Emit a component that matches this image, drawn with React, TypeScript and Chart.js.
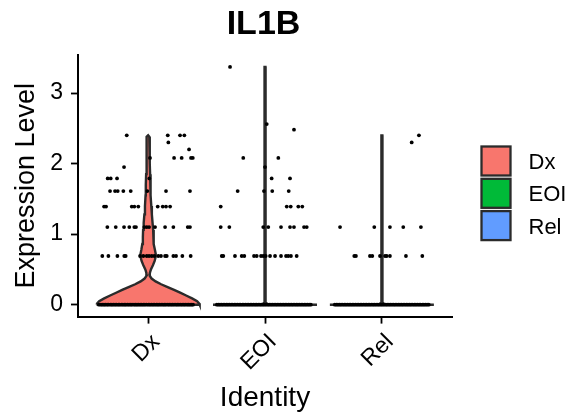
import { useEffect, useRef } from "react";
import { Chart, registerables } from "chart.js";
Chart.register(...registerables);

const plotTitle = "IL1B";
const xTitle = "Identity";
const yTitle = "Expression Level";
const groups = ["Dx", "EOI", "Rel"];
const groupColors = ["#F8766D", "#00BA38", "#619CFF"];
const yTickValues = [0, 1, 2, 3];

// Dx non-zero cells: value and horizontal jitter (category units)
const dxValues = [
  2.4, 2.4, 2.4, 2.4, 2.3, 2.2, 2.08, 2.08, 2.08, 2.08, 2.08, 1.95, 1.79, 1.79, 1.79, 1.79,
  1.61, 1.61, 1.61, 1.61, 1.61, 1.61, 1.61, 1.61,
  1.39, 1.39, 1.39, 1.39, 1.39, 1.39, 1.39, 1.39, 1.39,
  1.1, 1.1, 1.1, 1.1, 1.1, 1.1, 1.1, 1.1, 1.1, 1.1, 1.1, 1.1, 1.1, 1.1,
  0.69, 0.69, 0.69, 0.69, 0.69, 0.69, 0.69, 0.69, 0.69, 0.69, 0.69, 0.69, 0.69, 0.69, 0.69, 0.69, 0.69, 0.69, 0.69,
];
const dxJitter = [
  -0.183, 0.168, 0.273, 0.31, 0.173, 0.35, 0.016, 0.222, 0.287, 0.367, 0.382, -0.206, -0.346, -0.32, -0.266, 0.01,
  -0.326, -0.283, -0.26, -0.212, -0.149, -0.007, 0.153, 0.358,
  -0.377, -0.36, -0.14, -0.118, -0.084, 0.082, 0.125, 0.153, 0.188,
  -0.349, -0.277, -0.206, -0.161, -0.118, -0.104, -0.033, -0.012, 0.008, 0.059, 0.145, 0.216, 0.339, 0.358,
  -0.392, -0.34, -0.263, -0.204, -0.192, -0.069, -0.041, -0.012, 0.008, 0.031, 0.053, 0.087, 0.11, 0.145, 0.159, 0.216, 0.239, 0.293, 0.364,
];
const dxZeroJitter = [
  -0.421, -0.405, -0.392, -0.378, -0.366, -0.351, -0.339, -0.322, -0.31, -0.297, -0.283, -0.27, -0.255, -0.244,
  -0.229, -0.216, -0.202, -0.191, -0.176, -0.163, -0.149, -0.137, -0.121, -0.108, -0.095, -0.082, -0.068, -0.055,
  -0.041, -0.028, -0.013, 0.002, 0.015, 0.029, 0.043, 0.056, 0.071, 0.084, 0.097, 0.112, 0.126, 0.139, 0.152,
  0.168, 0.181, 0.195, 0.208, 0.222, 0.237, 0.25, 0.263, 0.278, 0.291, 0.305, 0.318, 0.333, 0.346, 0.359, 0.372, 0.384,
];

// EOI non-zero cells
const eoiValues = [
  3.37, 2.56, 2.48, 2.08, 2.08, 1.95, 1.79, 1.79, 1.61, 1.61, 1.61, 1.61,
  1.39, 1.39, 1.39, 1.39, 1.39,
  1.1, 1.1, 1.1, 1.1, 1.1, 1.1, 1.1, 1.1, 1.1,
  0.69, 0.69, 0.69, 0.69, 0.69, 0.69, 0.69, 0.69, 0.69, 0.69, 0.69, 0.69, 0.69, 0.69, 0.69, 0.69, 0.69,
];
const eoiJitter = [
  -0.299, 0.015, 0.248, -0.186, 0.114, 0.0, 0.057, 0.214, -0.234, -0.009, 0.062, 0.203,
  -0.379, 0.186, 0.22, 0.285, 0.319,
  -0.379, -0.305, -0.015, 0.028, 0.137, 0.214, 0.248, 0.334, 0.357,
  -0.37, -0.357, -0.257, -0.199, -0.177, -0.094, -0.071, -0.034, -0.015, 0.006, 0.043, 0.086, 0.137, 0.18, 0.199, 0.222, 0.271,
];
const eoiZeroJitter = [
  -0.412, -0.398, -0.385, -0.371, -0.358, -0.344, -0.33, -0.317, -0.303, -0.289, -0.276, -0.262, -0.249, -0.235,
  -0.221, -0.208, -0.194, -0.181, -0.167, -0.153, -0.14, -0.126, -0.113, -0.099, -0.085, -0.072, -0.058, -0.044,
  -0.031, -0.017, -0.004, 0.01, 0.024, 0.037, 0.051, 0.064, 0.078, 0.092, 0.105, 0.119, 0.133, 0.146, 0.16,
  0.173, 0.187, 0.201, 0.214, 0.228, 0.241, 0.255, 0.269, 0.282, 0.296, 0.31, 0.323, 0.337, 0.35, 0.364, 0.378, 0.392,
];

// Rel non-zero cells
const relValues = [2.4, 2.3, 1.1, 1.1, 1.1, 1.1, 1.1, 0.69, 0.69, 0.69, 0.69, 0.69, 0.69, 0.69, 0.69, 0.69, 0.69];
const relJitter = [
  0.317, 0.255, -0.358, -0.065, 0.069, 0.183, 0.334,
  -0.236, -0.222, -0.102, -0.082, -0.016, 0.027, 0.041, 0.069, 0.206, 0.346,
];
const relZeroJitter = [
  -0.403, -0.389, -0.376, -0.362, -0.349, -0.335, -0.321, -0.308, -0.294, -0.28, -0.267, -0.253, -0.24, -0.226,
  -0.212, -0.199, -0.185, -0.172, -0.158, -0.144, -0.131, -0.117, -0.104, -0.09, -0.076, -0.063, -0.049, -0.035,
  -0.022, -0.008, 0.005, 0.019, 0.033, 0.046, 0.06, 0.073, 0.087, 0.101, 0.114, 0.128, 0.142, 0.155, 0.169,
  0.182, 0.196, 0.21, 0.223, 0.237, 0.25, 0.264, 0.278, 0.291, 0.305, 0.319, 0.332, 0.346, 0.359, 0.373, 0.387, 0.401,
];

// Violin outlines: level and half width (category units)
const dxViolinY = [
  0, 0.02, 0.05, 0.09, 0.13, 0.17, 0.21, 0.25, 0.29, 0.33, 0.37, 0.41, 0.45, 0.5, 0.56, 0.62, 0.68, 0.72, 0.78,
  0.86, 0.96, 1.06, 1.16, 1.28, 1.4, 1.55, 1.7, 1.85, 2.0, 2.15, 2.3, 2.38, 2.4,
];
const dxViolinHalf = [
  0.441, 0.436, 0.419, 0.376, 0.325, 0.274, 0.222, 0.167, 0.111, 0.064, 0.03, 0.014, 0.015, 0.024, 0.041, 0.056,
  0.065, 0.065, 0.058, 0.05, 0.045, 0.043, 0.038, 0.032, 0.027, 0.022, 0.02, 0.017, 0.015, 0.014, 0.013, 0.01, 0,
];
const eoiViolinY = [0, 0.012, 0.03, 3.37];
const eoiViolinHalf = [0.445, 0.02, 0.005, 0.004];
const relViolinY = [0, 0.012, 0.03, 2.4];
const relViolinHalf = [0.445, 0.02, 0.005, 0.004];

const FONT = "'Liberation Sans', Arial, Helvetica, sans-serif";

function violinOutline(center: number, ys: number[], hw: number[]) {
  const pts: { x: number; y: number }[] = [];
  for (let i = 0; i < ys.length; i++) pts.push({ x: center - hw[i], y: ys[i] });
  for (let i = ys.length - 1; i >= 0; i--) pts.push({ x: center + hw[i], y: ys[i] });
  pts.push({ x: center - hw[0], y: ys[0] });
  return pts;
}

function cellPoints(center: number, vals: number[], jit: number[], zeroJit: number[]) {
  const pts = vals.map((v, i) => ({ x: center + jit[i], y: v }));
  zeroJit.forEach((j) => pts.push({ x: center + j, y: 0 }));
  return pts;
}

export default function App() {
  const ref = useRef<HTMLCanvasElement | null>(null);
  useEffect(() => {
    document.body.style.margin = "0";
    const canvas = ref.current;
    if (!canvas) return;

    const violins = [
      violinOutline(1, dxViolinY, dxViolinHalf),
      violinOutline(2, eoiViolinY, eoiViolinHalf),
      violinOutline(3, relViolinY, relViolinHalf),
    ];
    const cells = [
      cellPoints(1, dxValues, dxJitter, dxZeroJitter),
      cellPoints(2, eoiValues, eoiJitter, eoiZeroJitter),
      cellPoints(3, relValues, relJitter, relZeroJitter),
    ];

    const datasets: any[] = [];
    cells.forEach((pts, i) =>
      datasets.push({
        type: "scatter",
        label: groups[i] + " cells",
        data: pts,
        pointRadius: 1.9,
        pointBackgroundColor: "#000",
        pointBorderWidth: 0,
        showLine: false,
        order: 0,
      })
    );
    violins.forEach((pts, i) =>
      datasets.push({
        type: "line",
        label: groups[i],
        data: pts,
        borderColor: "#2b2b2b",
        borderWidth: 2.4,
        backgroundColor: groupColors[i],
        fill: "shape",
        pointRadius: 0,
        tension: 0,
        order: 1,
      })
    );

    const overlay = {
      id: "overlay",
      afterDraw(chart: any) {
        const ctx = chart.ctx;
        const ca = chart.chartArea;
        ctx.save();
        ctx.fillStyle = "#000";
        ctx.font = `bold 34px ${FONT}`;
        ctx.textAlign = "center";
        ctx.textBaseline = "alphabetic";
        ctx.fillText(plotTitle, (ca.left + ca.right) / 2 - 1.5, 34);
        // legend
        const bx = 481;
        const by = 146;
        const step = 32.3;
        const size = 30;
        groups.forEach((g, i) => {
          const y = by + i * step;
          ctx.fillStyle = groupColors[i];
          ctx.fillRect(bx, y, size, size);
          ctx.strokeStyle = "#2b2b2b";
          ctx.lineWidth = 2.3;
          ctx.strokeRect(bx + 0.5, y + 0.5, size - 1, size - 1);
          ctx.fillStyle = "#000";
          ctx.font = `22px ${FONT}`;
          ctx.textAlign = "left";
          ctx.fillText(g, 528.5, y + size / 2 + 8);
        });
        ctx.restore();
      },
    };

    const chart = new Chart(canvas, {
      type: "line",
      data: { datasets },
      options: {
        animation: false,
        responsive: false,
        events: [],
        layout: { padding: { left: 0, right: 120, top: 55, bottom: 0 } },
        plugins: { legend: { display: false }, tooltip: { enabled: false }, title: { display: false } },
        scales: {
          x: {
            type: "linear",
            min: 0.4,
            max: 3.6,
            afterFit: (s: any) => {
              s.height = 98.4;
            },
            afterBuildTicks: (s: any) => {
              s.ticks = groups.map((_, i) => ({ value: i + 1 }));
            },
            ticks: {
              autoSkip: false,
              maxRotation: 45,
              minRotation: 45,
              labelOffset: 8,
              padding: 5,
              color: "#000",
              font: { family: FONT, size: 23 },
              callback: (v: any) => groups[Math.round(Number(v)) - 1] ?? "",
            },
            grid: {
              display: true,
              drawOnChartArea: false,
              drawTicks: true,
              tickLength: 7,
              tickColor: "#000",
              tickWidth: 1.8,
            },
            border: { display: true, color: "#000", width: 2 },
            title: {
              display: true,
              text: xTitle,
              color: "#000",
              font: { family: FONT, size: 28 },
              padding: { top: 0, bottom: 0 },
            },
          },
          y: {
            type: "linear",
            min: -0.1685,
            max: 3.5385,
            afterFit: (s: any) => {
              s.width = 78;
            },
            afterBuildTicks: (s: any) => {
              s.ticks = yTickValues.map((v) => ({ value: v }));
            },
            ticks: {
              padding: 8,
              color: "#000",
              font: { family: FONT, size: 23 },
              callback: (v: any) => String(v),
            },
            grid: {
              display: true,
              drawOnChartArea: false,
              drawTicks: true,
              tickLength: 7,
              tickColor: "#000",
              tickWidth: 1.8,
            },
            border: { display: true, color: "#000", width: 2 },
            title: {
              display: true,
              text: yTitle,
              color: "#000",
              font: { family: FONT, size: 27 },
              padding: { top: 10, bottom: 0 },
            },
          },
        },
      },
      plugins: [overlay],
    } as any);
    return () => chart.destroy();
  }, []);

  return (
    <div style={{ width: 572, height: 415, position: "relative" }}>
      <canvas ref={ref} width={572} height={415} style={{ display: "block" }} />
    </div>
  );
}
